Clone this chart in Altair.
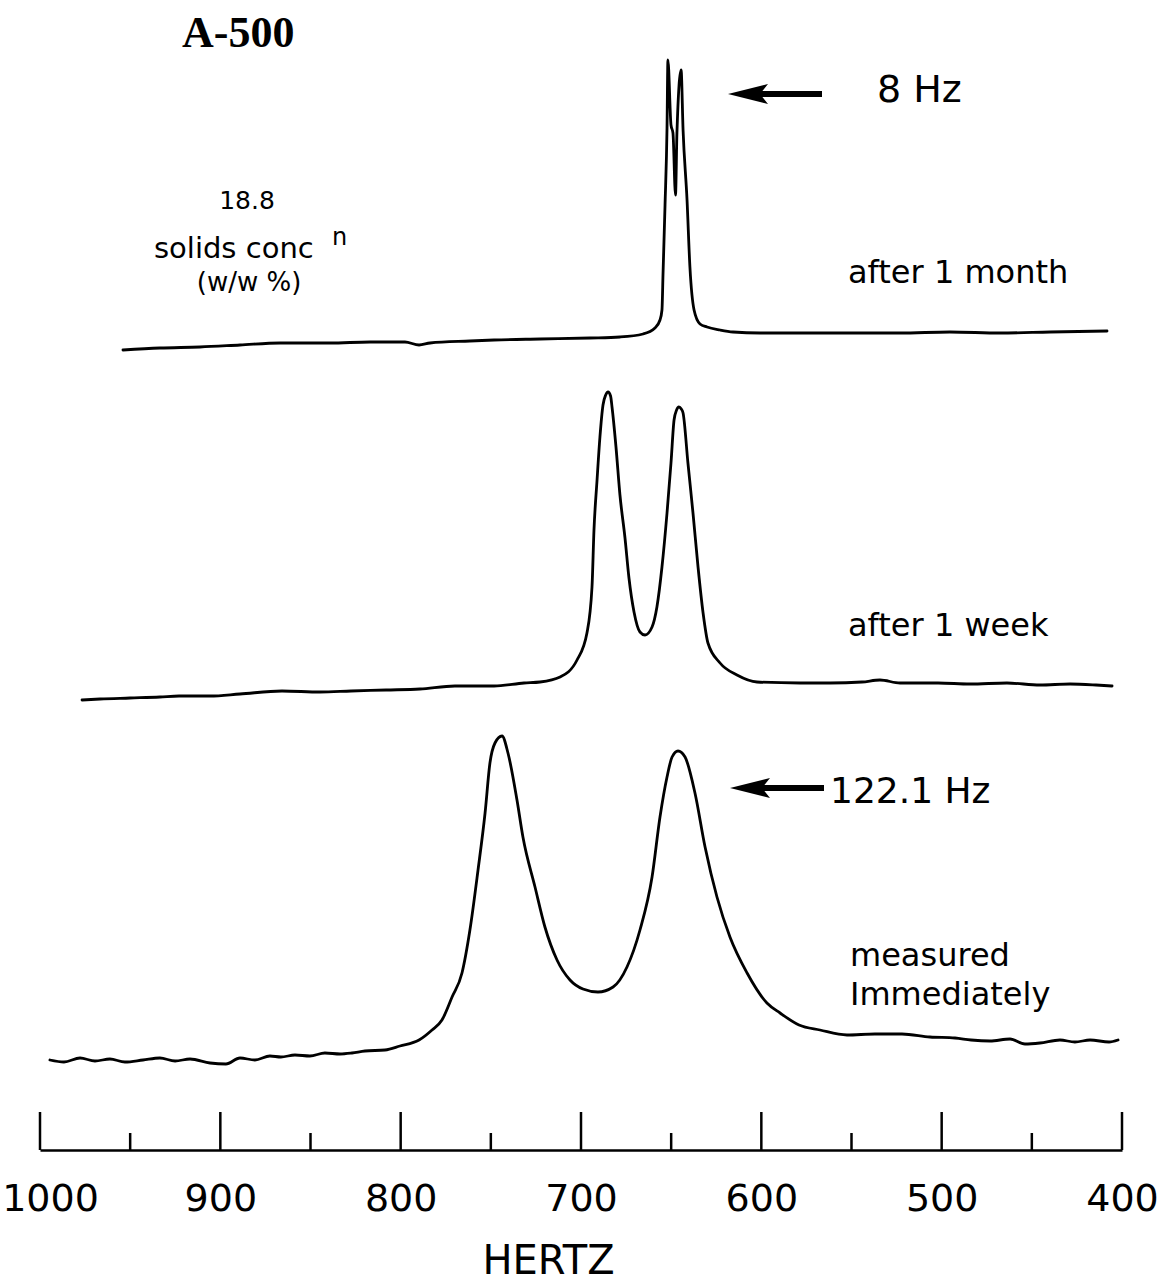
import altair as alt
import pandas as pd

# Stacked NMR traces: frequency (Hz) and stacked intensity (arbitrary units)
month_hz = [954.0, 933.5, 911.3, 889.1, 866.9, 839.2, 817.0, 797.6, 789.8, 783.7,
            761.6, 748.2, 722.7, 695.0, 678.4, 665.6, 659.0, 656.2, 655.1, 654.5,
            653.4, 652.3, 651.8, 650.1, 649.0, 647.6, 646.8, 644.5, 643.4, 641.2,
            639.6, 637.3, 634.0, 630.1, 622.9, 615.7, 600.7, 578.5, 550.8, 523.1,
            495.4, 467.6, 439.9, 408.3]
month_signal = [800, 802, 803, 805, 807, 807, 808, 808, 805, 807,
                809, 810, 811, 812, 813, 816, 822, 830, 840, 877,
                945, 1022, 1090, 1025, 1017, 955, 1017, 1080, 1020, 950,
                883, 840, 826, 823, 820, 818, 817, 817, 817, 817,
                818, 817, 818, 819]

week_hz = [976.7, 966.7, 950.1, 933.5, 922.9, 905.7, 889.1, 865.8, 844.7, 827.5,
           808.1, 789.3, 769.9, 748.2, 731.6, 722.7, 711.6, 702.2, 696.7, 693.9,
           692.8, 691.1, 689.5, 687.8, 686.3, 685.0, 683.6, 682.8, 680.6, 678.4,
           675.6, 673.4, 670.6, 667.3, 664.5, 660.6, 657.9, 655.1, 652.3, 650.1,
           648.4, 647.0, 645.7, 644.4, 643.4, 640.7, 637.9, 635.1, 632.3, 629.6,
           622.9, 613.5, 602.4, 578.5, 561.9, 544.2, 534.2, 523.1, 502.0, 484.3,
           463.8, 445.5, 428.8, 414.4, 405.5]
week_signal = [450, 451, 452, 453, 454, 454, 456, 459, 458, 459,
               460, 461, 464, 464, 467, 468, 473, 490, 517, 563,
               620, 670, 713, 745, 755, 758, 754, 743, 703, 655,
               612, 572, 538, 518, 515, 523, 543, 583, 637, 687,
               730, 740, 743, 741, 737, 687, 637, 583, 537, 507,
               487, 475, 468, 467, 467, 468, 470, 467, 467, 466,
               467, 465, 466, 465, 464]

immediate_hz = [994.5, 986.7, 977.8, 969.5, 961.2, 952.9, 942.9, 933.5, 925.1, 916.8,
                905.7, 896.9, 889.1, 880.8, 872.5, 866.4, 858.6, 850.3, 842.0, 833.6,
                827.0, 819.8, 808.7, 800.4, 789.8, 782.6, 777.1, 771.5, 766.0, 761.6,
                757.1, 753.2, 750.5, 747.7, 743.8, 740.5, 735.5, 732.2, 725.5, 720.0,
                713.3, 706.1, 698.9, 690.6, 682.2, 674.5, 667.3, 660.6, 656.2, 652.3,
                649.5, 646.2, 642.3, 636.8, 631.2, 624.6, 617.4, 607.9, 596.9, 589.6,
                579.1, 567.5, 552.5, 537.0, 522.0, 506.5, 492.6, 483.7, 473.2, 462.1,
                453.8, 445.5, 434.4, 426.1, 417.7, 407.2, 402.2]
immediate_signal = [90, 88, 92, 89, 91, 88, 90, 92, 89, 91,
                    87, 86, 92, 90, 94, 93, 95, 94, 97, 96,
                    97, 99, 100, 104, 110, 120, 130, 153, 177, 220,
                    280, 337, 387, 407, 414, 397, 350, 313, 263, 223,
                    190, 170, 161, 158, 163, 183, 220, 273, 333, 373,
                    393, 399, 393, 357, 303, 253, 213, 177, 147, 137,
                    125, 120, 115, 116, 116, 113, 112, 110, 109, 111,
                    106, 107, 110, 108, 110, 108, 110]

major_ticks = [1000, 900, 800, 700, 600, 500, 400]
minor_ticks = [950, 850, 750, 650, 550, 450]


def trace(name, hz, signal):
    return pd.DataFrame({"spectrum": name, "hz": hz, "signal": signal,
                         "idx": range(len(hz))})


traces = pd.concat([
    trace("after 1 month", month_hz, month_signal),
    trace("after 1 week", week_hz, week_signal),
    trace("measured immediately", immediate_hz, immediate_signal),
], ignore_index=True)

W, H = 1082, 1150
x_scale = alt.Scale(domain=[400, 1000], reverse=True, nice=False, zero=False)
y_scale = alt.Scale(domain=[0, H], nice=False, zero=False)

# Frequency axis: line and labels from the axis, ticks drawn upward as rules
x_axis = alt.Axis(
    values=major_ticks, format="d", ticks=False, tickSize=0, grid=False,
    domain=True, domainColor="black", domainWidth=2.5,
    labelFont="DejaVu Sans", labelFontSize=38, labelColor="black",
    labelPadding=30, labelFlush=False, labelOverlap=False,
    labelOffset={"condition": {"test": "datum.value == 1000", "value": 10},
                 "value": 0},
    title="HERTZ", titleFont="DejaVu Sans", titleFontSize=40,
    titleFontWeight="normal", titleColor="black",
    titleX=508, titleY=123, titleAlign="center", titleBaseline="alphabetic",
)
x_enc = alt.X("hz:Q", scale=x_scale, axis=x_axis)

lines = alt.Chart(traces).mark_line(
    color="black", strokeWidth=2.8, strokeJoin="round", strokeCap="round",
    interpolate="monotone",
).encode(
    x=x_enc,
    y=alt.Y("signal:Q", scale=y_scale, axis=None),
    detail="spectrum:N",
    order="idx:Q",
)

major = alt.Chart(pd.DataFrame({"hz": major_ticks})).mark_rule(
    color="black", strokeWidth=2.5
).encode(x=x_enc, y=alt.value(H), y2=alt.value(H - 38))

minor = alt.Chart(pd.DataFrame({"hz": minor_ticks})).mark_rule(
    color="black", strokeWidth=2.5
).encode(x=x_enc, y=alt.value(H), y2=alt.value(H - 17))


def note(text, x, y, size, font="DejaVu Sans", weight="normal", align="left"):
    return alt.Chart(alt.Data(values=[{"label": text}])).mark_text(
        font=font, fontSize=size, fontWeight=weight, align=align,
        baseline="alphabetic", color="black",
    ).encode(x=alt.value(x), y=alt.value(y), text="label:N")


ARROW_HEAD = "M -1 0 L 1 -0.5 L 0.6 0 L 1 0.5 Z"


def arrow(x_head, x_end, y):
    one = alt.Data(values=[{}])
    shaft = alt.Chart(one).mark_rule(color="black", strokeWidth=6).encode(
        x=alt.value(x_head + 10), x2=alt.value(x_end), y=alt.value(y)
    )
    head = alt.Chart(one).mark_point(
        shape=ARROW_HEAD, filled=True, size=1600, color="black", opacity=1
    ).encode(x=alt.value(x_head), y=alt.value(y))
    return [shaft, head]


notes = [
    note("A-500", 142, 47, 44, font="Liberation Serif", weight="bold"),
    note("18.8", 207, 209, 25, align="center"),
    note("solids conc", 114, 258, 29),
    note("n", 292, 245, 24),
    note("(w/w %)", 209, 291, 26, align="center"),
    note("8  Hz", 837, 102, 38),
    note("after 1 month", 808, 283, 32),
    note("after 1 week", 808, 636, 32),
    note("122.1 Hz", 790, 803, 36),
    note("measured", 810, 966, 32),
    note("Immediately", 810, 1005, 32),
]

chart = alt.layer(
    lines, major, minor, *notes,
    *arrow(708, 782, 94),
    *arrow(710, 784, 788),
).properties(
    width=W, height=H,
    padding={"left": 40, "right": 49, "top": 0, "bottom": 134},
    autosize=alt.AutoSizeParams(type="none"),
    background="white",
).configure_view(stroke=None)

chart.save("out.html", embed_options={"renderer": "svg", "actions": False})
